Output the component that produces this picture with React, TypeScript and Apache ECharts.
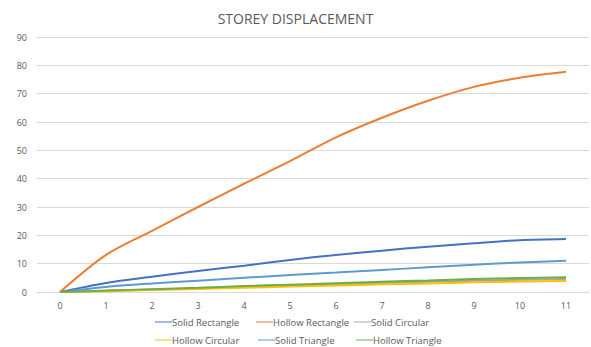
import React, { useEffect, useRef } from "react";
import * as echarts from "echarts";

const storeys = ["0", "1", "2", "3", "4", "5", "6", "7", "8", "9", "10", "11"];
const solidRectangle = [0, 3.2, 5.4, 7.4, 9.3, 11.3, 13.1, 14.6, 16.0, 17.2, 18.3, 18.7];
const hollowRectangle = [0, 13.1, 21.6, 30.0, 38.2, 46.2, 54.6, 61.5, 67.5, 72.4, 75.6, 77.7];
const solidCircular = [0, 0.4, 0.9, 1.3, 1.8, 2.3, 2.7, 3.2, 3.6, 4.0, 4.3, 4.6];
const hollowCircular = [0, 0.3, 0.7, 1.1, 1.5, 1.9, 2.3, 2.7, 3.0, 3.4, 3.7, 3.9];
const solidTriangle = [0, 1.8, 3.0, 4.0, 5.0, 6.0, 6.9, 7.8, 8.7, 9.6, 10.4, 11.0];
const hollowTriangle = [0, 0.5, 1.0, 1.5, 2.1, 2.6, 3.1, 3.6, 4.1, 4.6, 4.9, 5.2];

const seriesNames = [
  "Solid Rectangle",
  "Hollow Rectangle",
  "Solid Circular",
  "Hollow Circular",
  "Solid Triangle",
  "Hollow Triangle",
];
const seriesData = [solidRectangle, hollowRectangle, solidCircular, hollowCircular, solidTriangle, hollowTriangle];
const colors = ["#4472C4", "#ED7D31", "#A5A5A5", "#FFC000", "#5B9BD5", "#70AD47"];

const legendPos = [
  [155, 317],
  [256, 317],
  [354, 317],
  [155, 335],
  [258, 335],
  [356, 335],
];

export default function App() {
  const ref = useRef<HTMLDivElement>(null);
  useEffect(() => {
    if (!ref.current) return;
    const chart = echarts.init(ref.current, undefined, { renderer: "svg" });
    const font = "'Open Sans', 'Noto Sans', sans-serif";
    chart.setOption({
      animation: false,
      color: colors,
      textStyle: { fontFamily: font },
      title: {
        text: "STOREY DISPLACEMENT",
        left: "center",
        top: 6,
        textStyle: { fontSize: 14, fontWeight: "normal", color: "#595959", fontFamily: font },
      },
      legend: seriesNames.map((n, i) => ({
        data: [n],
        left: legendPos[i][0],
        top: legendPos[i][1],
        itemWidth: 17,
        itemHeight: 8,
        itemGap: 0,
        padding: 0,
        icon: "path://M0,3.5 L17,3.5 L17,4.5 L0,4.5 Z",
        textStyle: { fontSize: 9.5, color: "#595959", fontFamily: font, padding: [0, 0, 0, -5] },
      })),
      grid: { left: 37, right: 2, top: 37, bottom: 55 },
      xAxis: {
        type: "category",
        data: storeys,
        boundaryGap: true,
        axisLine: { show: true, lineStyle: { color: "#D9D9D9" } },
        axisTick: { show: false },
        axisLabel: { color: "#595959", fontSize: 9, margin: 9 },
      },
      yAxis: {
        type: "value",
        min: 0,
        max: 90,
        interval: 10,
        axisLine: { show: false },
        axisTick: { show: false },
        axisLabel: { color: "#595959", fontSize: 9, margin: 10 },
        splitLine: { lineStyle: { color: "#D9D9D9", width: 1 } },
      },
      series: seriesNames.map((n, i) => ({
        name: n,
        type: "line",
        data: seriesData[i],
        symbol: "none",
        smooth: 0.3,
        lineStyle: { width: 2, color: colors[i] },
        itemStyle: { color: colors[i] },
        z: i === 5 ? 3 : 2,
      })),
    });
    return () => chart.dispose();
  }, []);
  return (
    <div
      ref={ref}
      style={{ position: "fixed", left: 0, top: 0, width: 591, height: 347, background: "#fff" }}
    />
  );
}
